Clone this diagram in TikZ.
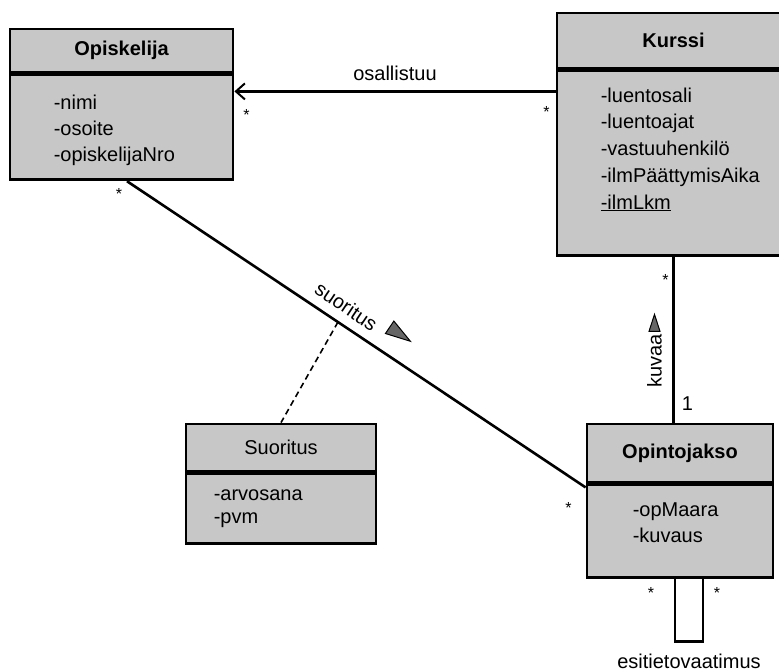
\documentclass[tikz,border=0pt]{standalone}
\usepackage{fontspec}
\setmainfont{Liberation Sans}
\usetikzlibrary{arrows.meta,calc}

\definecolor{boxgray}{gray}{0.78}

\tikzset{
  hdr/.style={draw=black, line width=2.8pt, fill=boxgray, inner sep=0pt,
    font=\fontsize{20}{24}\selectfont\bfseries},
  hdrplain/.style={hdr, font=\fontsize{20}{24}\selectfont},
  cbody/.style={draw=black, line width=2.8pt, fill=boxgray, inner sep=0pt},
  attrs/.style={anchor=west, align=left, inner sep=0pt},
  mult/.style={inner sep=0pt, font=\fontsize{16}{16}\selectfont, yshift=-3.5pt},
  assoc/.style={line width=2.6pt},
  lbl/.style={inner sep=0pt, font=\fontsize{20}{24}\selectfont},
  dirtri/.style={draw=black, line width=1pt, fill=black!60, line join=miter},
}

\begin{document}
\begin{tikzpicture}[x=1pt,y=-1pt]
\useasboundingbox (0,0) rectangle (779,671);
\clip (0,0) rectangle (779,671);
\fill[white] (0,0) rectangle (779,671);

% ---- classes ----
\node[hdr, minimum width=223pt, minimum height=43pt] (opisH) at (121.5,50.5) {Opiskelija};
\node[cbody, minimum width=223pt, minimum height=105pt, anchor=north] (opisB) at (opisH.south) {};
\node[attrs, font=\fontsize{20}{26}\selectfont] (opisA) at ([xshift=45pt,yshift=-3.5pt]opisB.west)
  {-nimi\\-osoite\\-opiskelijaNro};

\node[hdr, minimum width=233pt, minimum height=55pt] (kurH) at (673.5,40.5) {Kurssi};
\node[cbody, minimum width=233pt, minimum height=185pt, anchor=north] (kurB) at (kurH.south) {};
\node[attrs, font=\fontsize{20}{26.75}\selectfont] (kurA) at ([xshift=45pt,yshift=14pt]kurB.west)
  {-luentosali\\-luentoajat\\-vastuuhenkilö\\-ilmPäättymisAika\\\underline{-ilmLkm}};

\node[hdrplain, minimum width=190pt, minimum height=47pt] (suoH) at (281,447.5) {Suoritus};
\node[cbody, minimum width=190pt, minimum height=70pt, anchor=north] (suoB) at (suoH.south) {};
\node[attrs, font=\fontsize{20}{23}\selectfont] (suoA) at ([xshift=29pt]suoB.west)
  {-arvosana\\-pvm};

\node[hdr, minimum width=186pt, minimum height=58pt] (opjH) at (680,453) {Opintojakso};
\node[cbody, minimum width=186pt, minimum height=93pt, anchor=north] (opjB) at (opjH.south) {};
\node[attrs, font=\fontsize{20}{26}\selectfont] (opjA) at ([xshift=47pt,yshift=8.5pt]opjB.west)
  {-opMaara\\-kuvaus};

% ---- osallistuu ----
\coordinate (osK) at ([yshift=-22pt]kurB.north west);
\coordinate (osO) at ([yshift=-18pt]opisB.north east);
\draw[assoc, -{Straight Barb[length=9pt,width=16pt,line width=2pt]}] (osK) -- (osO)
  node[lbl, midway, above=9pt] (osL) {osallistuu};
\node[mult] at ([xshift=12pt,yshift=-20pt]osO) {*};
\node[mult] at ([xshift=-9pt,yshift=-17pt]osK) {*};

% ---- suoritus ----
\coordinate (suS) at ([xshift=5.5pt]opisB.south);
\coordinate (suE) at ([yshift=-4pt]opjB.north west);
\draw[assoc] (suS) -- (suE)
  coordinate[pos=0.46] (suMid)
  node[lbl, pos=0.457, sloped, above=9pt] (suL) {suoritus}
  node[pos=0.565, sloped, above=23pt, inner sep=0pt, minimum size=0pt] (suT) {};
\filldraw[dirtri, shift={(suT)}, rotate=-34] (13,0) -- (-12,7.5) -- (-12,-7.5) -- cycle;
\node[mult] at ([xshift=-8pt,yshift=-9pt]suS) {*};
\node[mult] at ([xshift=-17pt,yshift=-21pt]opjB.north west) {*};

% association class link
\draw[line width=1.6pt, dash pattern=on 6pt off 4pt] (suMid) -- (suoH.north);

% ---- kuvaa ----
\coordinate (kvT) at (kurB.south);
\coordinate (kvB) at (kurB.south |- opjH.north);
\draw[assoc] (kvT) -- (kvB);
\node[lbl, rotate=90] (kvL) at ([xshift=-19pt]$(kvT)!0.626!(kvB)$) {kuvaa};
\node[inner sep=0pt, minimum size=0pt] (kvTri) at ([xshift=-19pt]$(kvT)!0.40!(kvB)$) {};
\filldraw[dirtri, shift={(kvTri)}] (0,-9) -- (5.5,8) -- (-5.5,8) -- cycle;
\node[mult] at ([xshift=-8pt,yshift=-19pt]kvT) {*};
\node[lbl] at ([xshift=14pt,yshift=19pt]kvB) {1};

% ---- esitietovaatimus (self association) ----
\coordinate (lpL) at ([xshift=-5pt]opjB.south);
\coordinate (lpR) at ([xshift=23pt]opjB.south);
\draw[assoc] (lpL) -- ++(0,62) -| (lpR);
\path (lpL) -- (lpR) coordinate[midway] (lpM);
\node[lbl, anchor=base] (lpLbl) at ([yshift=-89pt]lpM) {esitietovaatimus};
\node[mult] at ([xshift=-24pt,yshift=-10pt]lpL) {*};
\node[mult] at ([xshift=14pt,yshift=-10pt]lpR) {*};
\end{tikzpicture}
\end{document}
